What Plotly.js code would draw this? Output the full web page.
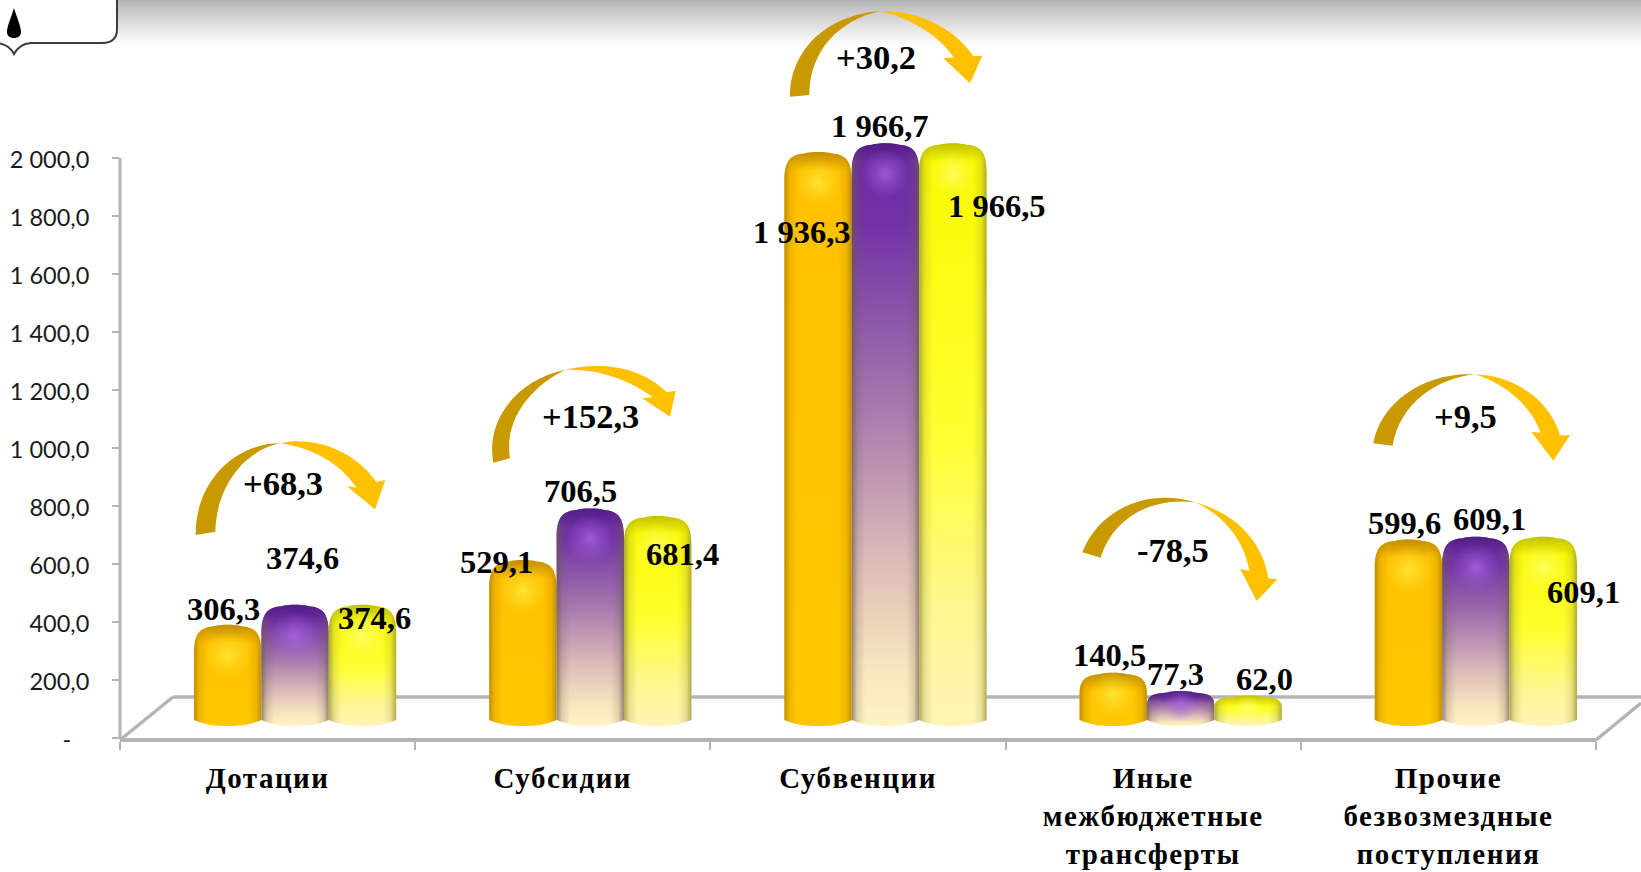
<!DOCTYPE html>
<html><head><meta charset="utf-8">
<script src="https://cdn.plot.ly/plotly-3.0.1.min.js"></script>
<style>
html,body{margin:0;padding:0;background:#fff;overflow:hidden}
#chart{width:1641px;height:872px}
.xtick text{letter-spacing:1.5px}
</style></head><body><div id="chart"></div>
<script>
const W = 1641, H = 872;
const categories = ['Дотации','Субсидии','Субвенции','Иные<br>межбюджетные<br>трансферты','Прочие<br>безвозмездные<br>поступления'];
const seriesA = [306.3, 529.1, 1936.3, 140.5, 599.6];
const seriesB = [374.6, 706.5, 1966.7, 77.3, 609.1];
const seriesC = [374.6, 681.4, 1966.5, 62.0, 609.1];
const deltas  = [68.3, 152.3, 30.2, -78.5, 9.5];
const yTicks  = [0,200,400,600,800,1000,1200,1400,1600,1800,2000];

// label centres in page pixels, hand-placed as in the reference
const labelPosA = [[223,609],[496,562],[802,232],[1109,655],[1404,523]];
const labelPosB = [[302,558],[580,491],[880,126],[1175,674],[1489,519]];
const labelPosC = [[374,618],[682,554],[997,206],[1264,679],[1583,592]];
const deltaPos  = [[283,483],[590,416],[876,57],[1173,550],[1465,416]];
// arrows, traced on 3x crops: page offset, dark half, light half
const arrowDefs = [
 {ox:100,oy:420,dark:'M287,345 C285,190 400,70 540,70 C440,90 350,190 346,335 Z',
  light:'M540,70 C650,45 770,100 828,185 L856,180 L825,268 L740,198 L770,203 C720,130 640,85 540,70 Z'},
 {ox:480,oy:355,dark:'M40,323 C15,190 120,70 255,45 C160,90 70,190 90,310 Z',
  light:'M255,45 C350,20 480,30 560,112 L587,107 L570,185 L487,130 L518,127 C450,75 350,40 255,45 Z'},
 {ox:770,oy:0,dark:'M60,290 C60,150 170,45 330,33 C210,60 118,150 118,285 Z',
  light:'M330,33 C440,30 550,80 610,168 L637,167 L600,250 L520,175 L552,172 C500,100 420,55 330,33 Z'},
 {ox:1070,oy:490,dark:'M37,187 C80,70 220,-10 375,37 C250,20 130,80 92,203 Z',
  light:'M375,37 C500,70 580,160 595,265 L622,268 L560,333 L510,236 L538,243 C525,160 470,80 375,37 Z'},
 {ox:1360,oy:360,dark:'M40,250 C60,130 190,35 345,43 C230,55 120,130 98,257 Z',
  light:'M345,43 C460,45 570,120 600,226 L630,226 L580,302 L514,215 L542,218 C510,130 430,70 345,43 Z'}
];

const fmt = v => {
  const [i,d] = Math.abs(v).toFixed(1).split('.');
  return i.replace(/\B(?=(\d{3})+$)/g,' ') + ',' + d;
};
const px = x => x / W, py = y => 1 - y / H;
const P = (x,y) => px(x).toFixed(5) + ',' + py(y).toFixed(5);

const plotL=120, plotR=1596, plotB=738, plotT=78;
const pxPerUnit = 0.29;
const yMax = (plotB-plotT)/pxPerUnit;
const barLift = 24;              // perspective lift of the bars above the axis zero
const catShift = 27.5/((plotR-plotL)/5); // perspective shift to the right

const shapes = [];
// header gradient band
for(let i=0;i<46;i++){
  const t=i/45, g=Math.round(180+75*Math.pow(t,0.9));
  shapes.push({type:'rect',xref:'paper',yref:'paper',x0:px(112),x1:1,y0:py(i),y1:py(i+1),fillcolor:`rgb(${g},${g},${g})`,line:{width:0},layer:'below'});
}
// header box
shapes.push({type:'path',xref:'paper',yref:'paper',layer:'below',fillcolor:'#fff',line:{color:'#3c3c3c',width:2},
 path:`M${P(117,-2)} L${P(117,29)} Q${P(117,43)} ${P(102,43)} L${P(31,43)} Q${P(19,44)} ${P(14,54)} Q${P(9,44)} ${P(-3,43)} L${P(-3,-2)} Z`});
shapes.push({type:'path',xref:'paper',yref:'paper',layer:'below',fillcolor:'#000',line:{width:0},
 path:`M${P(14,8)} C${P(11,18)} ${P(7,26)} ${P(7,32)} C${P(7,36)} ${P(10,38)} ${P(14,38)} C${P(18,38)} ${P(21,36)} ${P(21,32)} C${P(21,26)} ${P(17,18)} ${P(14,8)} Z`});
// floor and y axis line
const grey='#B4B4B4';
[[120,740,173,697],[173,697,1641,697],[1596,740,1641,703]].forEach(s=>{
  shapes.push({type:'line',xref:'paper',yref:'paper',layer:'below',x0:px(s[0]),y0:py(s[1]),x1:px(s[2]),y1:py(s[3]),line:{color:grey,width:3.5}});
});
shapes.push({type:'line',xref:'paper',yref:'y',layer:'below',x0:px(120),x1:px(120),y0:0,y1:2000,line:{color:grey,width:3}});

// curved arrows
arrowDefs.forEach(a=>{
  const build=s=>s.replace(/(-?\d+(?:\.\d+)?),(-?\d+(?:\.\d+)?)/g,(t,x,y)=>P(a.ox+x/3,a.oy+y/3));
  shapes.push({type:'path',xref:'paper',yref:'paper',layer:'above',fillcolor:'#C99A00',line:{width:0},path:build(a.dark)});
  shapes.push({type:'path',xref:'paper',yref:'paper',layer:'above',fillcolor:'#FFC000',line:{width:0},path:build(a.light)});
});

// annotations
const ann=[];
const addLabel=(text,pos,size)=>ann.push({text,xref:'paper',yref:'paper',x:px(pos[0]),y:py(pos[1]),xanchor:'center',yanchor:'middle',showarrow:false,
  font:{family:'Liberation Serif',size:size,color:'#000',weight:700}});
[[seriesA,labelPosA],[seriesB,labelPosB],[seriesC,labelPosC]].forEach(([s,p])=>s.forEach((v,i)=>addLabel(fmt(v),p[i],32.5)));
deltas.forEach((d,i)=>addLabel((d>0?'+':'-')+fmt(d),deltaPos[i],34.5));

const common={type:'bar',x:categories,xaxis:'x2',yaxis:'y2',cliponaxis:false,showlegend:false,hoverinfo:'skip'};
const traces=[
 {...common,name:'Ряд 1',y:seriesA,marker:{color:'#FFC000',line:{width:0}}},
 {...common,name:'Ряд 2',y:seriesB,marker:{color:'#7030A0',line:{width:0}}},
 {...common,name:'Ряд 3',y:seriesC,marker:{color:'#FFFF00',line:{width:0}}},
 {type:'scatter',x:categories,y:categories.map(()=>null),mode:'lines',showlegend:false,hoverinfo:'skip'}
];
const xDom=[plotL/W,plotR/W], yDom=[(H-plotB)/H,(H-plotT)/H];
const layout={
 width:W,height:H,margin:{l:0,r:0,t:0,b:0},paper_bgcolor:'#fff',plot_bgcolor:'rgba(0,0,0,0)',
 barmode:'group',bargap:0.315,bargroupgap:0,showlegend:false,
 xaxis:{domain:xDom,type:'category',anchor:'y',range:[-0.5,4.5],tickson:'boundaries',ticks:'outside',ticklen:8,tickwidth:2,tickcolor:grey,
   showline:true,linecolor:grey,linewidth:3.5,showgrid:false,zeroline:false,fixedrange:true,tickangle:0,categoryorder:'array',categoryarray:categories,
   ticklabelstandoff:12,tickfont:{family:'Liberation Serif',size:29,color:'#000',weight:700}},
 yaxis:{domain:yDom,anchor:'x',range:[0,yMax],tickmode:'array',tickvals:yTicks,
   ticktext:yTicks.map(v=>v===0?'-\u00a0\u00a0\u00a0':fmt(v)),ticks:'outside',ticklen:7,tickwidth:2,tickcolor:grey,ticklabelstandoff:18,
   showline:false,showgrid:false,zeroline:false,fixedrange:true,tickfont:{family:'Lato',size:23.5,color:'#1a1a1a'}},
 xaxis2:{domain:xDom,type:'category',overlaying:'x',anchor:'y2',range:[-0.5-catShift,4.5-catShift],visible:false,fixedrange:true,categoryorder:'array',categoryarray:categories},
 yaxis2:{domain:yDom,overlaying:'y',anchor:'x2',range:[-barLift/pxPerUnit,yMax-barLift/pxPerUnit],visible:false,fixedrange:true},
 shapes:shapes,annotations:ann
};
// style recipes for the three series
const looks=[
 {stops:[[0,'#FFC000'],[1,'#FFC800']],hi:'#FFE838',hiA:0.9,rim:'#B88600',side:'#A87800'},
 {stops:[[0,'#6A2AA2'],[0.14,'#7232A6'],[0.45,'#A678AE'],[0.72,'#DDBDB8'],[0.9,'#F8E6BE'],[1,'#FFF3C4']],hi:'#AE66E8',hiA:0.75,rim:'#4E1C80',side:'#6C5A50'},
 {stops:[[0,'#F8F800'],[0.5,'#FFFF30'],[0.8,'#FFF690'],[1,'#FFF4B8']],hi:'#FFFF80',hiA:0.7,rim:'#B8B800',side:'#8E8A30'}
];
Plotly.newPlot('chart',traces,layout,{staticPlot:true,displayModeBar:false}).then(gd=>{
  const svg=gd.querySelector('.main-svg');
  const NS='http://www.w3.org/2000/svg';
  const defs=document.createElementNS(NS,'defs');svg.insertBefore(defs,svg.firstChild);
  let id=0;
  const grad=(type,attrs,stops)=>{
    const g=document.createElementNS(NS,type);const gid='g'+(id++);g.setAttribute('id',gid);
    for(const k in attrs)g.setAttribute(k,attrs[k]);
    stops.forEach(([o,c,a])=>{const s=document.createElementNS(NS,'stop');s.setAttribute('offset',o);s.setAttribute('stop-color',c);s.setAttribute('stop-opacity',a==null?1:a);g.appendChild(s);});
    defs.appendChild(g);return 'url(#'+gid+')';
  };
  const y2=gd._fullLayout.yaxis2;
  const bottom=y2.l2p(0)+10;       // bars stand on the floor, in front of the lifted zero
  gd.querySelectorAll('.barlayer .trace.bars').forEach((tr,ti)=>{
    const look=looks[ti];
    tr.querySelectorAll('.point path').forEach(p=>{
      const b=p.getBBox();
      const x0=b.x,x1=b.x+b.width,yt=b.y,cx=(x0+x1)/2,w=b.width;
      const yb=bottom;
      const h=yb-yt;
      const rx=w*0.30, ry=Math.min(28,h*0.42);
      const d=`M${x0},${yb-4} L${x0},${yt+ry} C${x0},${yt+ry*0.25} ${x0+rx*0.35},${yt+2} ${x0+rx},${yt+1} `+
        `C${cx-8},${yt-1} ${cx+8},${yt-1} ${x1-rx},${yt+1} C${x1-rx*0.35},${yt+2} ${x1},${yt+ry*0.25} ${x1},${yt+ry} `+
        `L${x1},${yb-4} C${x1-12},${yb+1} ${cx+14},${yb+2} ${cx},${yb+2} C${cx-14},${yb+2} ${x0+12},${yb+1} ${x0},${yb-4} Z`;
      p.setAttribute('d',d);
      p.style.fill=grad('linearGradient',{x1:0,y1:0,x2:0,y2:1},look.stops);
      p.style.opacity=1;
      const over=(fill)=>{const c=p.cloneNode();c.style.fill=fill;p.parentNode.appendChild(c);};
      over(grad('linearGradient',{x1:0,y1:0,x2:1,y2:0},[[0,look.side,0.7],[0.08,look.side,0.2],[0.2,look.side,0],[0.8,look.side,0],[0.92,look.side,0.2],[1,look.side,0.7]]));
      const capH=Math.min(18,h*0.35);
      over(grad('linearGradient',{gradientUnits:'userSpaceOnUse',x1:0,y1:yt,x2:0,y2:yt+capH},[[0,look.rim,0.85],[1,look.rim,0]]));
      const hy=yt+Math.min(30,h*0.42);
      over(grad('radialGradient',{gradientUnits:'userSpaceOnUse',cx:cx,cy:hy,r:Math.min(24,h*0.5)},[[0,look.hi,look.hiA],[0.4,look.hi,look.hiA*0.5],[1,look.hi,0]]));
    });
  });
  gd.querySelectorAll('.ytick text').forEach(t=>t.setAttribute('y',(+t.getAttribute('y')||0)+2));
});
</script></body></html>
